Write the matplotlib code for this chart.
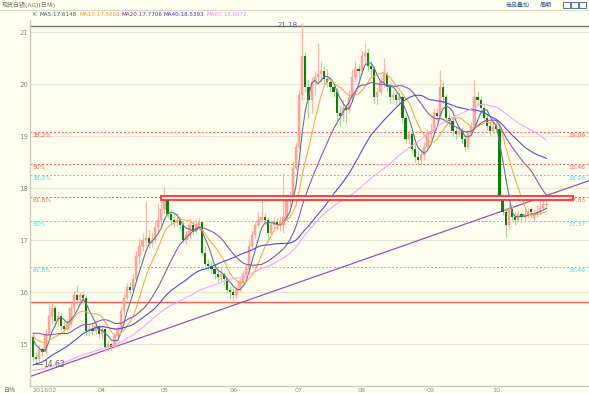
import matplotlib.pyplot as plt
from matplotlib.patches import Rectangle
import numpy as np
import pandas as pd

plt.rcParams['font.family'] = ['DejaVu Sans', 'Noto Sans CJK SC']

# closes before the first drawn candle (only used to warm up the moving averages)
history = [14.10, 14.25, 14.40, 14.30, 14.15, 14.05, 14.20, 14.45, 14.60, 14.50,
           14.35, 14.25, 14.15, 14.30, 14.40, 14.50, 14.45, 14.35, 14.20, 14.10,
           13.90, 14.00, 14.10, 13.95, 13.85, 13.80, 13.90, 14.05, 14.15, 14.00,
           13.85, 13.75, 13.90, 14.00, 14.10, 13.95, 13.85, 13.95, 14.05, 14.10,
           14.60, 14.75, 14.90, 15.20, 15.45, 15.60, 15.50, 15.35, 15.30, 15.25,
           15.40, 15.35, 15.20, 15.10, 15.15, 15.25, 15.30, 15.20, 15.15, 15.10]

# daily candles
opens = [15.14, 14.75, 14.72, 14.90, 14.85, 15.20, 15.55, 15.70, 15.45, 15.55,
         15.35, 15.30, 15.40, 15.70, 15.95, 15.85, 15.95, 15.90, 15.25, 15.30,
         15.25, 15.35, 15.20, 15.30, 14.95, 15.00, 14.95, 15.15, 15.30, 15.65,
         15.90, 16.10, 16.05, 16.25, 16.70, 16.90, 17.00, 17.05, 16.95, 17.00,
         17.25, 17.40, 17.60, 17.78, 17.50, 17.40, 17.35, 17.40, 17.30, 17.00,
         17.10, 17.30, 17.20, 17.30, 17.35, 16.75, 16.55, 16.50, 16.45, 16.35,
         16.30, 16.35, 16.25, 16.05, 16.00, 15.95, 16.05, 16.20, 16.35, 16.45,
         16.90, 17.10, 17.30, 17.40, 17.45, 17.40, 17.15, 17.30, 17.35, 17.30,
         17.30, 17.45, 17.75, 17.85, 18.40, 18.80, 19.80, 20.55, 19.95, 19.70,
         20.05, 20.15, 20.20, 20.25, 20.10, 20.05, 19.95, 19.85, 19.45, 19.40,
         19.55, 19.50, 19.75, 20.15, 20.30, 20.25, 20.55, 20.60, 20.35, 20.30,
         19.75, 19.85, 20.05, 20.20, 19.95, 19.75, 19.80, 19.70, 19.75, 19.35,
         18.95, 19.05, 18.75, 18.60, 18.55, 18.65, 18.80, 19.05, 19.10, 19.45,
         19.40, 19.95, 19.75, 19.35, 19.30, 19.10, 19.05, 19.10, 18.95, 18.80,
         19.05, 19.20, 19.75, 19.70, 19.55, 19.35, 19.20, 19.10, 19.20, 19.15,
         17.80, 17.55, 17.30, 17.60, 17.45, 17.40, 17.50, 17.45, 17.50, 17.60,
         17.42, 17.50, 17.55, 17.62, 17.68]
highs = [15.22, 14.85, 14.98, 14.95, 15.30, 15.79, 15.80, 15.75, 15.65, 15.60,
         15.45, 15.50, 15.80, 16.02, 16.14, 16.00, 16.02, 15.92, 15.38, 15.40,
         15.45, 15.40, 15.38, 15.35, 15.08, 15.05, 15.22, 15.38, 15.72, 15.98,
         16.18, 16.20, 16.35, 16.80, 17.05, 17.15, 17.73, 17.20, 17.15, 17.40,
         17.70, 17.75, 18.02, 17.85, 17.60, 17.50, 17.52, 17.45, 17.38, 17.20,
         17.42, 17.38, 17.40, 17.42, 17.38, 16.90, 16.65, 16.60, 16.55, 16.45,
         16.48, 16.40, 16.30, 16.12, 16.08, 16.12, 16.28, 16.42, 16.55, 17.00,
         17.18, 17.38, 17.55, 17.78, 17.52, 17.45, 17.40, 17.45, 17.42, 17.45,
         18.30, 17.90, 17.95, 18.50, 18.90, 19.90, 21.18, 20.62, 20.10, 20.15,
         20.25, 20.80, 20.45, 20.35, 20.30, 20.15, 20.05, 19.92, 19.60, 19.70,
         19.62, 19.90, 20.30, 20.45, 20.40, 20.65, 20.79, 20.70, 20.45, 20.35,
         19.95, 20.15, 20.50, 20.25, 20.05, 19.90, 19.85, 19.85, 19.80, 19.40,
         19.15, 19.10, 18.85, 18.70, 18.75, 18.90, 19.15, 19.25, 19.55, 19.55,
         20.28, 20.05, 19.82, 19.45, 19.38, 19.20, 19.20, 19.18, 19.02, 19.12,
         19.28, 20.08, 19.88, 19.78, 19.62, 19.42, 19.30, 19.30, 19.28, 19.20,
         17.90, 17.65, 17.72, 17.68, 17.55, 17.58, 17.55, 17.60, 17.65, 17.65,
         17.60, 17.68, 17.85, 17.90, 17.78]
lows = [14.68, 14.62, 14.68, 14.78, 14.82, 15.15, 15.40, 15.38, 15.35, 15.28,
        15.22, 15.25, 15.35, 15.62, 15.78, 15.75, 15.80, 15.18, 15.15, 15.18,
        15.20, 15.12, 15.10, 14.85, 14.88, 14.88, 14.92, 15.10, 15.25, 15.55,
        15.85, 15.95, 15.98, 16.20, 16.55, 16.80, 16.90, 16.85, 16.88, 16.95,
        17.15, 17.30, 17.50, 17.42, 17.30, 17.25, 17.28, 17.20, 16.95, 16.92,
        17.05, 17.10, 17.15, 17.20, 16.70, 16.50, 16.42, 16.38, 16.25, 16.20,
        16.22, 16.15, 15.98, 15.88, 15.79, 15.88, 16.00, 16.15, 16.28, 16.40,
        16.85, 17.05, 17.25, 17.35, 17.30, 17.05, 17.10, 17.22, 17.20, 17.18,
        17.15, 17.40, 17.65, 17.80, 18.35, 18.75, 19.70, 19.85, 19.35, 19.45,
        19.80, 20.00, 20.05, 20.00, 19.95, 19.85, 19.75, 19.30, 19.20, 19.30,
        19.25, 19.45, 19.70, 20.05, 20.10, 20.20, 20.40, 20.25, 20.15, 19.65,
        19.60, 19.80, 19.95, 19.85, 19.65, 19.65, 19.60, 19.60, 19.25, 18.88,
        18.85, 18.68, 18.50, 18.45, 18.45, 18.55, 18.70, 18.95, 19.05, 19.30,
        19.35, 19.65, 19.28, 19.20, 19.00, 18.95, 18.98, 18.88, 18.72, 18.75,
        19.00, 19.15, 19.60, 19.45, 19.28, 19.12, 19.02, 19.05, 19.08, 17.75,
        17.48, 17.06, 17.22, 17.38, 17.30, 17.35, 17.35, 17.40, 17.42, 17.42,
        17.38, 17.45, 17.50, 17.58, 17.60]
closes = [14.75, 14.72, 14.90, 14.85, 15.20, 15.55, 15.70, 15.45, 15.55, 15.35,
          15.30, 15.40, 15.70, 15.95, 15.85, 15.95, 15.90, 15.25, 15.30, 15.25,
          15.35, 15.20, 15.30, 14.95, 15.00, 14.95, 15.15, 15.30, 15.65, 15.90,
          16.10, 16.05, 16.25, 16.70, 16.90, 17.00, 17.05, 16.95, 17.00, 17.25,
          17.40, 17.60, 17.78, 17.50, 17.40, 17.35, 17.40, 17.30, 17.00, 17.10,
          17.30, 17.20, 17.30, 17.35, 16.75, 16.55, 16.50, 16.45, 16.35, 16.30,
          16.35, 16.25, 16.05, 16.00, 15.95, 16.05, 16.20, 16.35, 16.45, 16.90,
          17.10, 17.30, 17.40, 17.45, 17.40, 17.15, 17.30, 17.35, 17.30, 17.35,
          17.45, 17.75, 17.85, 18.40, 18.80, 19.80, 20.55, 19.95, 19.70, 20.05,
          20.15, 20.20, 20.25, 20.10, 20.05, 19.95, 19.85, 19.45, 19.40, 19.55,
          19.50, 19.75, 20.15, 20.30, 20.25, 20.55, 20.60, 20.35, 20.30, 19.75,
          19.85, 20.05, 20.20, 19.95, 19.75, 19.80, 19.70, 19.75, 19.35, 18.95,
          19.05, 18.75, 18.60, 18.55, 18.65, 18.80, 19.05, 19.10, 19.45, 19.40,
          19.95, 19.75, 19.35, 19.30, 19.10, 19.05, 19.10, 18.95, 18.80, 19.05,
          19.20, 19.75, 19.70, 19.55, 19.35, 19.20, 19.10, 19.20, 19.15, 17.80,
          17.55, 17.30, 17.60, 17.45, 17.40, 17.50, 17.45, 17.50, 17.55, 17.54,
          17.50, 17.55, 17.62, 17.70, 17.70]

ma_periods = [5, 10, 20, 40, 60]
ma_colors = ['#5d7890', '#ffa64d', '#8a5aa8', '#4a4ae6', '#ff9ef0']
ma_header = ['MA5:17.6148', 'MA10:17.5608', 'MA20:17.7706', 'MA40:18.5393', 'MA60:18.8072']
header_colors = ['#3d5570', '#ff8a20', '#7a2a8a', '#3030f0', '#ff80ff']

month_labels = ['201602', '04', '05', '06', '07', '08', '09', '10']
month_idx = [0, 22, 42, 64, 85, 105, 127, 148]

fib_red = [19.09, 18.46, 17.83]
fib_red_pct = ['38.2%', '50%', '61.8%']
fib_cyan = [18.26, 17.37, 16.49]
fib_cyan_pct = ['38.2%', '50%', '61.8%']
swing_low = 15.81
swing_high = 21.13
high_label = '21.18'
low_label = '14.62'
trend_x = [0, 164]
trend_y = [14.40, 17.86]

bg = '#fffff0'
red = '#ff5a5a'
cyan = '#3ddbe8'
fs = 4.3

fig = plt.figure(figsize=(5.89, 3.94), dpi=100)
fig.patch.set_facecolor(bg)
ax = fig.add_axes([30 / 589, 8 / 394, 559 / 589, 366 / 394])
ax.set_facecolor(bg)
yt = ax.get_yaxis_transform()

n = len(closes)
idx = np.arange(n)
allc = pd.Series(history + closes)

# grid
for v in range(15, 22):
    ax.axhline(v, color='#e6e6d6', lw=0.8, zorder=0)

# fib levels
for v, p in zip(fib_red, fib_red_pct):
    ax.axhline(v, color=red, lw=0.7, ls=(0, (2, 2)), zorder=1)
    ax.text(0.004, v - 0.02, p, color=red, fontsize=fs, va='top', transform=yt)
    ax.text(0.963, v - 0.02, f'{v:.2f}', color=red, fontsize=fs, va='top', transform=yt, zorder=8)
for v, p in zip(fib_cyan, fib_cyan_pct):
    ax.axhline(v, color=cyan, lw=0.7, ls=(0, (2, 2)), zorder=1)
    ax.text(0.004, v - 0.02, p, color=cyan, fontsize=fs, va='top', transform=yt)
    ax.text(0.963, v - 0.02, f'{v:.2f}', color=cyan, fontsize=fs, va='top', transform=yt)
ax.axhline(swing_low, color=red, lw=1.0, zorder=1)
ax.axhline(swing_high, color='#707070', lw=1.0, zorder=1)

# trend line
ax.axline((trend_x[0], trend_y[0]), (trend_x[1], trend_y[1]), color='#a050a8', lw=0.9, zorder=2)

# candles
o = np.array(opens)
h = np.array(highs)
l = np.array(lows)
c = np.array(closes)
up = c >= o
ax.vlines(idx[up], l[up], h[up], color='#ffb3aa', lw=0.9, zorder=3)
ax.vlines(idx[~up], l[~up], h[~up], color='#a6d69c', lw=0.9, zorder=3)
body = np.maximum(np.abs(c - o), 0.015)
ax.bar(idx[up], body[up], bottom=o[up], width=0.72, color='#ffaaa0',
       edgecolor='#ff8a80', lw=0.3, zorder=4)
ax.bar(idx[~up], body[~up], bottom=c[~up], width=0.72, color='#0a800a', lw=0, zorder=4)

# moving averages
for p, col in zip(ma_periods, ma_colors):
    m = allc.rolling(p).mean().to_numpy()[-n:]
    ax.plot(idx, m, color=col, lw=0.8, zorder=5)

# 61.8% box
box = Rectangle((40.8, 17.77), 131.7, 0.09, facecolor='#ffecec', edgecolor='#ff3030',
                lw=1.3, zorder=6)
ax.add_patch(box)

# high / low labels
hi_i = int(np.argmax(h))
lo_i = int(np.argmin(l))
ax.text(hi_i - 1.5, swing_high + 0.01, high_label, color='#52606e', fontsize=5,
        ha='right', va='center', zorder=7)
ax.plot([lo_i, lo_i + 2], [l[lo_i]] * 2, color='#52606e', lw=0.6, zorder=7)
ax.text(lo_i + 2.3, l[lo_i], low_label, color='#52606e', fontsize=5.5, va='center', zorder=7)

ax.set_xlim(-0.96, 177.6)
ax.set_ylim(14.198, 21.237)
ax.set_yticks(range(15, 22))
ax.set_yticklabels([str(v) for v in range(15, 22)], fontsize=5, color='#8a8a8a')
ax.set_xticks(month_idx)
ax.set_xticklabels(month_labels, fontsize=4.6, color='#8a8a8a')
ax.get_xticklabels()[0].set_horizontalalignment('left')
ax.tick_params(length=0, pad=1.5)
for s in ['top', 'right']:
    ax.spines[s].set_visible(False)
for s in ['left', 'bottom']:
    ax.spines[s].set_color('#c8c8c0')
    ax.spines[s].set_linewidth(1.0)

# header rows
fig.text(2 / 589, 1 - 5 / 394, '现货白银(AG)(日线)', fontsize=fs, color='#707070', va='center')
fig.text(506 / 589, 1 - 5 / 394, '商品叠加', fontsize=fs, color='#3a5a8a', va='center')
fig.text(540 / 589, 1 - 5 / 394, '周期', fontsize=fs, color='#3a5a8a', va='center')
for bx in [563, 571, 579]:
    fig.add_artist(Rectangle((bx / 589, 1 - 8 / 394), 7 / 589, 6 / 394, transform=fig.transFigure,
                             facecolor='none', edgecolor='#3a5a8a', lw=0.6))
fig.add_artist(plt.Line2D([0, 1], [1 - 10 / 394] * 2, color='#d8d8c8', lw=0.8))
fig.text(32 / 589, 1 - 14 / 394, 'K', fontsize=fs, color='#707070', va='center')
for x0, t, col in zip([40, 80, 121, 163, 206], ma_header, header_colors):
    fig.text(x0 / 589, 1 - 14 / 394, t, fontsize=4.1, color=col, va='center')
fig.text(4 / 589, 4 / 394, '日线', fontsize=fs, color='#707070', va='center')

fig.savefig('out.png', dpi=100, facecolor=bg)
